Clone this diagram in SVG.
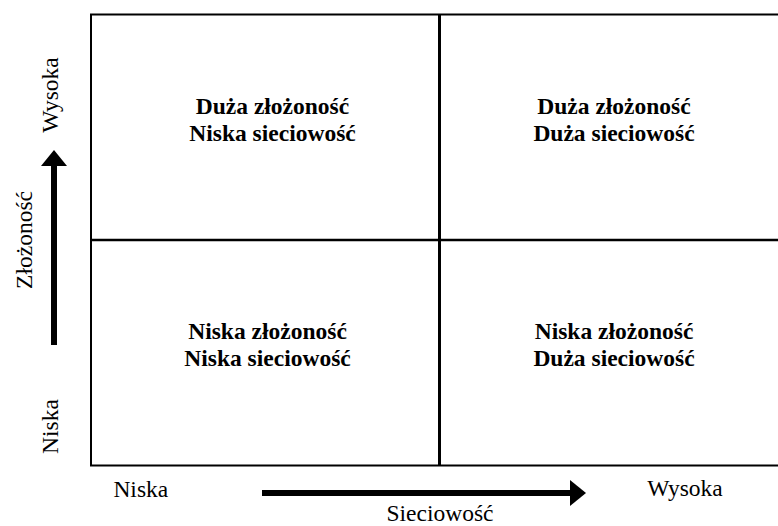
<svg xmlns="http://www.w3.org/2000/svg" width="778" height="526" viewBox="0 0 778 526">
<style>
.q{font-family:"Liberation Serif","DejaVu Serif",serif;font-size:23.5px;font-weight:bold;text-anchor:middle;fill:#000}
.a{font-family:"Liberation Serif","DejaVu Serif",serif;font-size:23.5px;text-anchor:middle;fill:#000}
.ln{stroke:#000;fill:none}
</style>
<rect width="778" height="526" fill="#fff"/>
<g id="grid">
<rect class="ln" x="91" y="14.5" width="700" height="451" stroke-width="2"/>
<line class="ln" x1="439.5" y1="14.5" x2="439.5" y2="465.5" stroke-width="3"/>
<line class="ln" x1="91" y1="240" x2="778" y2="240" stroke-width="2.5"/>
</g>
<g id="q-tl"><text class="q" x="272.5" y="114">Duża złożoność</text><text class="q" x="272.5" y="141">Niska sieciowość</text></g>
<g id="q-tr"><text class="q" x="614" y="114">Duża złożoność</text><text class="q" x="614" y="141">Duża sieciowość</text></g>
<g id="q-bl"><text class="q" x="267.5" y="339">Niska złożoność</text><text class="q" x="267.5" y="366">Niska sieciowość</text></g>
<g id="q-br"><text class="q" x="614" y="339">Niska złożoność</text><text class="q" x="614" y="366">Duża sieciowość</text></g>
<g id="connectors">
<line x1="262" y1="493" x2="571" y2="493" stroke="#000" stroke-width="6"/>
<polygon points="570,480 586,493 570,506" fill="#000"/>
<line x1="54" y1="345" x2="54" y2="165" stroke="#000" stroke-width="6"/>
<polygon points="41,166 54,150 67,166" fill="#000"/>
</g>
<g id="labels">
<text class="a" x="140.8" y="497">Niska</text>
<text class="a" x="685" y="496">Wysoka</text>
<text class="a" x="440" y="521">Sieciowość</text>
<text class="a" transform="translate(58,95) rotate(-90)">Wysoka</text>
<text class="a" transform="translate(32,240) rotate(-90)">Złożoność</text>
<text class="a" transform="translate(58,426.5) rotate(-90)">Niska</text>
</g>
</svg>
